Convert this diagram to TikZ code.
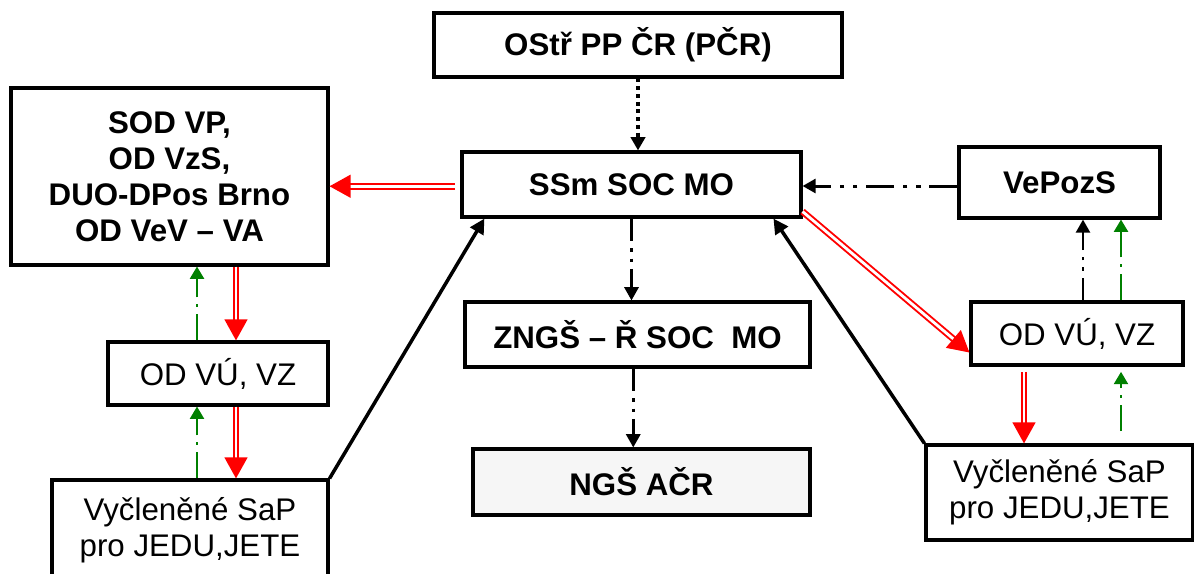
\documentclass[tikz,border=0pt]{standalone}
\usepackage{fontspec}
\setmainfont{Liberation Sans}
\usetikzlibrary{arrows.meta, calc}
\definecolor{flowgreen}{RGB}{0,128,0}
\definecolor{paleshade}{RGB}{246,246,246}

\begin{document}
\begin{tikzpicture}[
  x=0.02cm, y=-0.02cm,
  unit/.style    ={rectangle, draw, line width=1.8pt, align=center, inner sep=0pt,
                   font=\fontsize{17.8}{20.5}\selectfont\bfseries},
  unitplain/.style={unit, font=\fontsize{17.8}{20.5}\selectfont},
  tip/.style     ={-{Triangle[length=7.5pt, width=8pt]}},
  link/.style    ={-{Triangle[length=8.5pt, width=8.5pt]}, line width=2pt},
  dotlink/.style ={tip, line width=2.2pt, dash pattern=on 2.2pt off 2.2pt},
  cmdlink/.style ={tip, line width=1.5pt, dash pattern=on 13pt off 4pt on 1.8pt off 4pt on 1.8pt off 4pt},
  vplink/.style  ={tip, line width=1.7pt, dash pattern=on 16pt off 5pt on 2.5pt off 5pt on 2.5pt off 5pt},
  greenlink/.style={-{Triangle[length=7pt, width=8pt]}, flowgreen, line width=1.2pt,
                   dash pattern=on 15pt off 4pt on 1.5pt off 4pt},
  redlink/.style ={-{Triangle[length=12pt, width=13pt]}, red, line width=1.1pt,
                   double=white, double distance=1.6pt},
]
  \useasboundingbox (0,0) rectangle (1194,574);

  \node[unit, minimum width=8.16cm, minimum height=1.28cm]      (ostr) at (638,45)     {OStř PP ČR (PČR)};
  \node[unit, minimum width=6.78cm, minimum height=1.30cm]      (ssm)  at (631.5,184.5) {SSm SOC MO};
  \node[unit, minimum width=6.34cm, minimum height=3.54cm]      (sod)  at (169.5,176.5) {SOD VP,\\OD VzS,\\DUO-DPos Brno\\OD VeV -- VA};
  \node[unitplain, minimum width=4.40cm, minimum height=1.26cm] (odl)  at (218,373.5)  {OD VÚ, VZ};
  \node[unitplain, minimum width=5.52cm, minimum height=2.00cm] (vyl)  at (190,530)    {Vyčleněné SaP\\pro JEDU,JETE};
  \node[unit, minimum width=6.90cm, minimum height=1.30cm]      (zngs) at (637.5,334.5) {ZNGŠ -- Ř SOC\ \ MO};
  \node[unit, fill=paleshade, minimum width=6.74cm, minimum height=1.32cm] (ngs) at (641.5,482) {NGŠ AČR};
  \node[unit, minimum width=4.02cm, minimum height=1.42cm]      (vep)  at (1059.5,182.5) {VePozS};
  \node[unitplain, minimum width=4.24cm, minimum height=1.26cm] (odr)  at (1077,333.5) {OD VÚ, VZ};
  \node[unitplain, minimum width=5.34cm, minimum height=1.90cm] (vyr)  at (1059.5,492.5) {Vyčleněné SaP\\pro JEDU,JETE};

  % lanes for the vertical links
  \coordinate (lred)  at (236,0);
  \coordinate (lgrn)  at (197,0);
  \coordinate (rblk)  at (1083,0);
  \coordinate (rgrn)  at (1121,0);
  \coordinate (rred)  at (1024,0);

  \draw[dotlink] (ostr.south) -- (ostr.south |- ssm.north);
  \draw[redlink] ([xshift=-3pt, yshift=-1pt]ssm.west) -- ([yshift=-1pt]sod.east |- ssm.west);
  \draw[vplink]  ([yshift=-2pt]vep.west) -- ([yshift=-2pt]vep.west -| ssm.east);
  \draw[cmdlink] (ssm.south) -- (ssm.south |- zngs.north);
  \draw[cmdlink] ([xshift=1pt]zngs.south -| ssm) -- ([xshift=1pt]ssm |- ngs.north);
  \draw[redlink] ([yshift=4pt]ssm.south east) -- ([yshift=8pt]odr.south west);
  \draw[link]    (vyl.north east) -- ($(ssm.south west)!0.07!(ssm.south east)$);
  \draw[link]    (vyr.north west) -- ($(ssm.south west)!0.915!(ssm.south east)$);

  \draw[redlink]   (lred |- sod.south) -- (lred |- odl.north);
  \draw[greenlink] (lgrn |- odl.north) -- (lgrn |- sod.south);
  \draw[redlink]   (lred |- odl.south) -- (lred |- vyl.north);
  \draw[greenlink] (lgrn |- vyl.north) -- (lgrn |- odl.south);

  \draw[cmdlink]   (rblk |- odr.north) -- (rblk |- vep.south);
  \draw[greenlink] (rgrn |- odr.north) -- (rgrn |- vep.south);
  \draw[redlink, shorten <=3pt] (rred |- odr.south) -- (rred |- vyr.north);
  \draw[greenlink, shorten <=7pt, shorten >=3pt] (rgrn |- vyr.north) -- (rgrn |- odr.south);
\end{tikzpicture}
\end{document}
